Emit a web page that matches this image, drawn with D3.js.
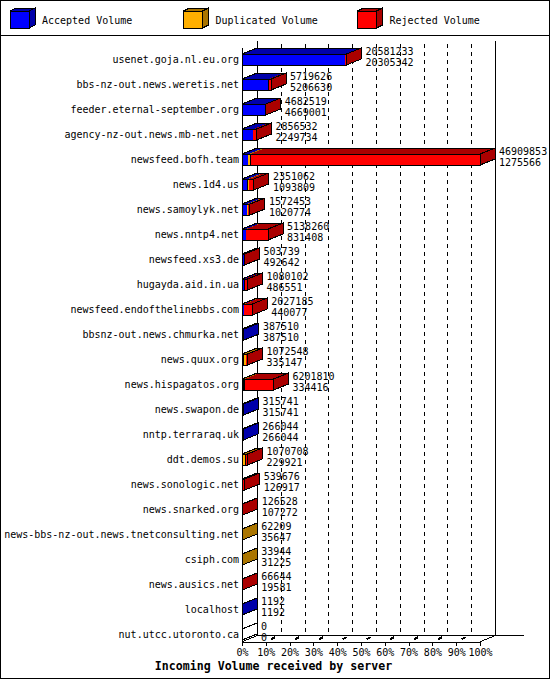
<!DOCTYPE html>
<html>
<head>
<meta charset="utf-8">
<script src="https://cdn.jsdelivr.net/npm/d3@7/dist/d3.min.js"></script>
<style>
  body { margin: 0; background: #fff; }
  svg { display: block; }
  text { font-family: "DejaVu Sans Mono", monospace; font-size: 10px; fill: #000; }
  polygon, rect, line, path { shape-rendering: crispEdges; }
</style>
</head>
<body>
<div class="chart"></div>
<script>
// data
var servers = [
  "usenet.goja.nl.eu.org", "bbs-nz-out.news.weretis.net", "feeder.eternal-september.org",
  "agency-nz-out.news.mb-net.net", "newsfeed.bofh.team", "news.1d4.us", "news.samoylyk.net",
  "news.nntp4.net", "newsfeed.xs3.de", "hugayda.aid.in.ua", "newsfeed.endofthelinebbs.com",
  "bbsnz-out.news.chmurka.net", "news.quux.org", "news.hispagatos.org", "news.swapon.de",
  "nntp.terraraq.uk", "ddt.demos.su", "news.sonologic.net", "news.snarked.org",
  "news-bbs-nz-out.news.tnetconsulting.net", "csiph.com", "news.ausics.net", "localhost",
  "nut.utcc.utoronto.ca"
];
var totalVolume = [
  20581233, 5719626, 4682519, 2856532, 46909853, 2351062, 1572453, 5138260, 503739, 1080102,
  2027185, 387510, 1072548, 6201810, 315741, 266044, 1070708, 539676, 126528, 62209,
  33944, 66644, 1192, 0
];
var acceptedVolume = [
  20305342, 5206630, 4669001, 2249734, 1275566, 1093809, 1020774, 831408, 492642, 486551,
  440077, 387510, 335147, 334416, 315741, 266044, 229921, 126917, 107272, 35647,
  31225, 19581, 1192, 0
];
// estimated from the width of the orange slices
var duplicatedVolume = [
  40000, 20000, 2000, 10000, 420000, 330000, 200000, 30000, 1000, 10000,
  10000, 0, 480000, 250000, 0, 0, 460000, 5000, 1000, 26562,
  2719, 2000, 0, 0
];
var seriesNames = ["Accepted Volume", "Duplicated Volume", "Rejected Volume"];
var seriesColors = ["#0000ff", "#ffaf00", "#ff0000"];
var seriesDark = ["#0000aa", "#aa7500", "#aa0000"];
var percentTicks = [0, 10, 20, 30, 40, 50, 60, 70, 80, 90, 100];

var svgWidth = 550;
var svgHeight = 680;
var left = 242, right = 480;      // front plane of the plot
var dx = 15, dy = 6;              // 3d depth offset
var barH = 11;
var floorY = 641;

var svg = d3.select(".chart")
  .append("svg")
  .attr("width", svgWidth)
  .attr("height", svgHeight);

var rows = servers.map(function(s, i) {
  return {
    name: s,
    total: totalVolume[i],
    acc: acceptedVolume[i],
    dup: duplicatedVolume[i],
    rej: totalVolume[i] - acceptedVolume[i] - duplicatedVolume[i]
  };
});
var keys = ["acc", "dup", "rej"];
var stacked = d3.stack().keys(keys)(rows);

var xScale = d3.scaleLinear().domain([0, d3.max(totalVolume)]).range([left, right]);
var pctScale = d3.scaleLinear().domain([0, 100]).range([left, right]);
var yScale = d3.scalePoint().domain(servers).range([59.5, 634.5]);

// frame + legend separator
svg.append("rect")
  .attr("x", 0.5).attr("y", 0.5)
  .attr("width", svgWidth - 1).attr("height", svgHeight - 2)
  .attr("fill", "none").attr("stroke", "#000");
svg.append("line")
  .attr("x1", 0).attr("x2", svgWidth).attr("y1", 35.5).attr("y2", 35.5)
  .attr("stroke", "#000");

// legend cubes
var legend = svg.selectAll(".legend")
  .data(seriesNames)
  .enter()
  .append("g")
  .attr("class", "legend")
  .attr("transform", function(d, i) { return "translate(" + [10, 183.5, 357.5][i] + ",0)"; });
legend.append("polygon")
  .attr("points", "0,11 6,8 25,8 19,11")
  .attr("fill", function(d, i) { return seriesDark[i]; })
  .attr("stroke", "#000");
legend.append("polygon")
  .attr("points", "19,11 25,8 25,25 19,28")
  .attr("fill", function(d, i) { return seriesDark[i]; })
  .attr("stroke", "#000");
legend.append("rect")
  .attr("x", 0).attr("y", 11).attr("width", 19).attr("height", 17)
  .attr("fill", function(d, i) { return seriesColors[i]; })
  .attr("stroke", "#000");
legend.append("text")
  .attr("x", 32).attr("y", 23.5)
  .text(function(d) { return d; });

// back grid (dashed) and walls
var grid = svg.append("g");
grid.selectAll("line.grid")
  .data(percentTicks.slice(1, -1))
  .enter()
  .append("line")
  .attr("class", "grid")
  .attr("x1", function(d) { return Math.round(pctScale(d) + dx) + 0.5; })
  .attr("x2", function(d) { return Math.round(pctScale(d) + dx) + 0.5; })
  .attr("y1", 44).attr("y2", floorY - dy)
  .attr("stroke", "#000").attr("stroke-dasharray", "4,4");

var walls = [
  [left, 47, left, floorY],
  [left + dx, 40, left + dx, floorY - dy],
  [right + dx, 40, right + dx, floorY - dy],
  [left + dx, floorY - dy, 523, floorY - dy],
  [right, floorY, right + dx, floorY - dy],
  [left, floorY, left + dx, floorY - dy]
];
svg.selectAll("line.wall")
  .data(walls)
  .enter()
  .append("line")
  .attr("class", "wall")
  .attr("x1", function(d) { return d[0] + 0.5; })
  .attr("y1", function(d) { return d[1] + 0.5; })
  .attr("x2", function(d) { return d[2] + 0.5; })
  .attr("y2", function(d) { return d[3] + 0.5; })
  .attr("stroke", "#000");

// floor dashes between front ticks and back grid
svg.selectAll("line.floor")
  .data(percentTicks.slice(1, -1))
  .enter()
  .append("line")
  .attr("class", "floor")
  .attr("x1", function(d) { return pctScale(d) + 5.5; })
  .attr("y1", floorY - 1.8)
  .attr("x2", function(d) { return pctScale(d) + 9.5; })
  .attr("y2", floorY - 3.8)
  .attr("stroke", "#000").attr("stroke-width", 2);

// bars
var bars = svg.selectAll("g.bar")
  .data(rows)
  .enter()
  .append("g")
  .attr("class", "bar");

function lastKey(r) {
  for (var k = keys.length - 1; k >= 0; k--) if (r[keys[k]] > 0) return k;
  return -1;
}

bars.each(function(r, i) {
  var g = d3.select(this);
  var yt = yScale(r.name) - barH / 2;
  var yb = yt + barH;
  var xe = xScale(r.total);

  // top face segments
  stacked.forEach(function(s, k) {
    var a = xScale(s[i][0]), b = xScale(s[i][1]);
    if (b - a <= 0) return;
    g.append("polygon")
      .attr("points", [[a, yt], [a + dx, yt - dy], [b + dx, yt - dy], [b, yt]].join(" "))
      .attr("fill", seriesDark[k]);
  });
  g.append("polygon")
    .attr("points", [[left, yt], [left + dx, yt - dy], [xe + dx, yt - dy], [xe, yt]].join(" "))
    .attr("fill", "none").attr("stroke", "#000");

  // right face
  var lk = lastKey(r);
  g.append("polygon")
    .attr("points", [[xe, yt], [xe + dx, yt - dy], [xe + dx, yb - dy], [xe, yb]].join(" "))
    .attr("fill", lk < 0 ? "#fff" : seriesDark[lk])
    .attr("stroke", "#000");

  // front face segments
  stacked.forEach(function(s, k) {
    var a = xScale(s[i][0]), b = xScale(s[i][1]);
    if (b - a <= 0) return;
    g.append("rect")
      .attr("x", a).attr("y", yt)
      .attr("width", b - a).attr("height", barH)
      .attr("fill", seriesColors[k]);
    if (s[i][1] < r.total) {
      g.append("line")
        .attr("x1", b).attr("x2", b).attr("y1", yt).attr("y2", yb)
        .attr("stroke", "#000");
    }
  });
  g.append("rect")
    .attr("x", left).attr("y", yt)
    .attr("width", xe - left).attr("height", barH)
    .attr("fill", "none").attr("stroke", "#000");

  // values
  g.append("text")
    .attr("x", xe + dx + 4).attr("y", yScale(r.name) - 4.5)
    .text(r.total);
  g.append("text")
    .attr("x", xe + dx + 4).attr("y", yScale(r.name) + 6)
    .text(r.acc);
});

// server names
var leftAxis = d3.axisLeft(yScale).tickSize(0).tickPadding(3);
var yAxis = svg.append("g")
  .attr("transform", "translate(" + left + ",0)")
  .call(leftAxis);
yAxis.select(".domain").remove();
yAxis.selectAll("text")
  .attr("dy", "0.25em")
  .style("font-family", "'DejaVu Sans Mono', monospace")
  .style("font-size", "10px");

// percent axis on the front floor
var bottomAxis = d3.axisBottom(pctScale)
  .tickValues(percentTicks)
  .tickFormat(function(d) { return d + "%"; })
  .tickSizeInner(4)
  .tickSizeOuter(0)
  .tickPadding(3);
var xAxis = svg.append("g")
  .attr("transform", "translate(0," + (floorY + 0.5) + ")")
  .call(bottomAxis);
xAxis.selectAll("text")
  .style("font-family", "'DejaVu Sans Mono', monospace")
  .style("font-size", "10px");

// title
svg.append("text")
  .attr("x", 273.5).attr("y", 670)
  .attr("text-anchor", "middle")
  .style("font-weight", "bold")
  .style("font-size", "11.6px")
  .text("Incoming Volume received by server");
</script>
</body>
</html>
